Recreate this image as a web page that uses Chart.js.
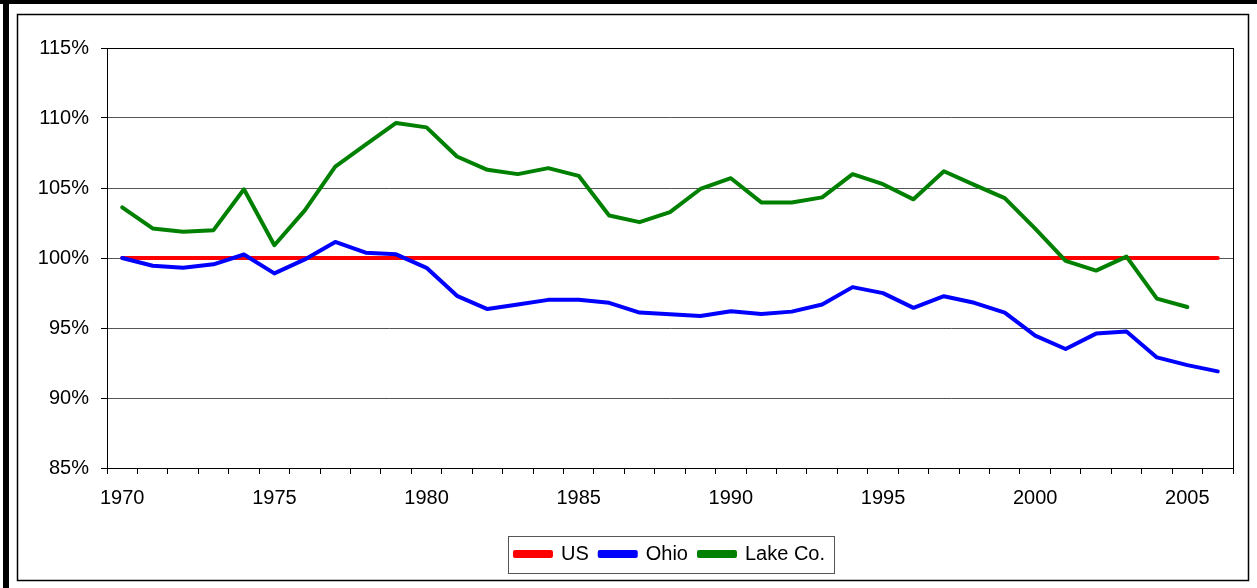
<!DOCTYPE html>
<html>
<head>
<meta charset="utf-8">
<script src="https://cdn.jsdelivr.net/npm/chart.js@4/dist/chart.umd.min.js"></script>
<style>
    html, body { margin: 0; padding: 0; background: #fff; }
    #chart { display: block; }
</style>
</head>
<body>
<canvas id="chart" width="1257" height="588"></canvas>
<script>
    // Categories
    var years = ["1970", "1971", "1972", "1973", "1974", "1975", "1976", "1977", "1978", "1979",
        "1980", "1981", "1982", "1983", "1984", "1985", "1986", "1987", "1988", "1989",
        "1990", "1991", "1992", "1993", "1994", "1995", "1996", "1997", "1998", "1999",
        "2000", "2001", "2002", "2003", "2004", "2005", "2006"];

    // Tick labels shown on the year axis
    var yearLabels = ["1970", "1975", "1980", "1985", "1990", "1995", "2000", "2005"];

    // Series (percent of US)
    var usValues = [100, 100, 100, 100, 100, 100, 100, 100, 100, 100,
        100, 100, 100, 100, 100, 100, 100, 100, 100, 100,
        100, 100, 100, 100, 100, 100, 100, 100, 100, 100,
        100, 100, 100, 100, 100, 100, 100];

    var ohioValues = [100.0, 99.45, 99.3, 99.55, 100.25, 98.9, 99.9, 101.15, 100.38, 100.26,
        99.3, 97.3, 96.35, 96.68, 97.01, 97.01, 96.8, 96.1, 95.98, 95.86,
        96.2, 96.0, 96.17, 96.68, 97.92, 97.49, 96.44, 97.27, 96.8, 96.1,
        94.45, 93.5, 94.6, 94.75, 92.9, 92.35, 91.9];

    var lakeValues = [103.62, 102.11, 101.87, 101.99, 104.91, 100.91, 103.4, 106.53, 108.09, 109.65,
        109.33, 107.25, 106.3, 105.99, 106.42, 105.87, 103.04, 102.56, 103.28, 104.93,
        105.7, 103.97, 103.97, 104.33, 105.99, 105.27, 104.19, 106.2, 105.22, 104.28,
        102.1, 99.8, 99.1, 100.1, 97.1, 96.5, null];

    Chart.defaults.font.family = "'Liberation Sans', Arial, sans-serif";
    Chart.defaults.font.size = 20;
    Chart.defaults.color = "#000";

    // Frame, plot border and legend box
    var framePlugin = {
        id: "frame",
        beforeDraw: function (chart) {
            var ctx = chart.ctx;
            ctx.save();
            ctx.fillStyle = "#fff";
            ctx.fillRect(0, 0, chart.width, chart.height);
            ctx.restore();
        },
        afterDraw: function (chart) {
            var ctx = chart.ctx;
            var area = chart.chartArea;
            ctx.save();

            // thick outer edges
            ctx.fillStyle = "#000";
            ctx.fillRect(0, 0, chart.width, 4);
            ctx.fillRect(3, 0, 6, chart.height);

            // thin inner frame
            ctx.strokeStyle = "#000";
            ctx.lineWidth = 1.5;
            ctx.strokeRect(17.5, 14.5, 1231, 566);

            // plot area border
            ctx.lineWidth = 1;
            ctx.strokeRect(Math.round(area.left) + 0.5, Math.round(area.top) + 0.5,
                Math.round(area.right - area.left), Math.round(area.bottom - area.top));

            // legend box
            var boxes = chart.legend.legendHitBoxes;
            if (boxes && boxes.length) {
                var first = boxes[0];
                var last = boxes[boxes.length - 1];
                var cy = first.top + first.height / 2;
                var x0 = Math.round(first.left - 7) + 0.5;
                var x1 = Math.round(last.left + last.width + 9) + 0.5;
                ctx.strokeStyle = "#555";
                ctx.strokeRect(x0, Math.round(cy - 18) + 0.5, x1 - x0, 37);
            }
            ctx.restore();
        }
    };

    var ctx1 = document.getElementById("chart").getContext("2d");
    var myChart1 = new Chart(ctx1, {
        type: "line",
        data: {
            labels: years,
            datasets: [{
                label: "US",
                data: usValues,
                borderColor: "#ff0000",
                backgroundColor: "#ff0000",
                order: 3
            },
            {
                label: "Ohio",
                data: ohioValues,
                borderColor: "#0000ff",
                backgroundColor: "#0000ff",
                order: 2
            },
            {
                label: "Lake Co.",
                data: lakeValues,
                borderColor: "#008000",
                backgroundColor: "#008000",
                order: 1
            }
            ]
        },
        options: {
            responsive: false,
            animation: false,
            events: [],
            layout: {
                padding: { left: 0, top: 48, right: 24, bottom: 14 }
            },
            elements: {
                line: { borderWidth: 4, tension: 0, borderCapStyle: "round", borderJoinStyle: "round" },
                point: { radius: 0 }
            },
            scales: {
                x: {
                    offset: true,
                    border: { color: "#000", width: 1 },
                    grid: {
                        offset: true,
                        drawOnChartArea: false,
                        drawTicks: true,
                        tickLength: 6,
                        tickColor: "#000"
                    },
                    ticks: {
                        autoSkip: false,
                        maxRotation: 0,
                        padding: 12,
                        callback: function (value, index) {
                            var label = years[index];
                            return yearLabels.indexOf(label) >= 0 ? label : "";
                        }
                    },
                    afterFit: function (scale) {
                        scale.height = 65;
                    }
                },
                y: {
                    min: 85,
                    max: 115,
                    border: { color: "#000", width: 1 },
                    grid: {
                        color: "#555",
                        tickLength: 6,
                        tickColor: "#000"
                    },
                    ticks: {
                        stepSize: 5,
                        padding: 12,
                        callback: function (value) {
                            return value + "%";
                        }
                    },
                    afterFit: function (scale) {
                        scale.width = 107;
                    }
                }
            },
            plugins: {
                legend: {
                    position: "bottom",
                    fullSize: false,
                    labels: {
                        boxWidth: 36,
                        boxHeight: 4,
                        padding: 11,
                        sort: function (a, b) {
                            return a.datasetIndex - b.datasetIndex;
                        }
                    }
                },
                tooltip: { enabled: false }
            }
        },
        plugins: [framePlugin]
    });
</script>
</body>
</html>
